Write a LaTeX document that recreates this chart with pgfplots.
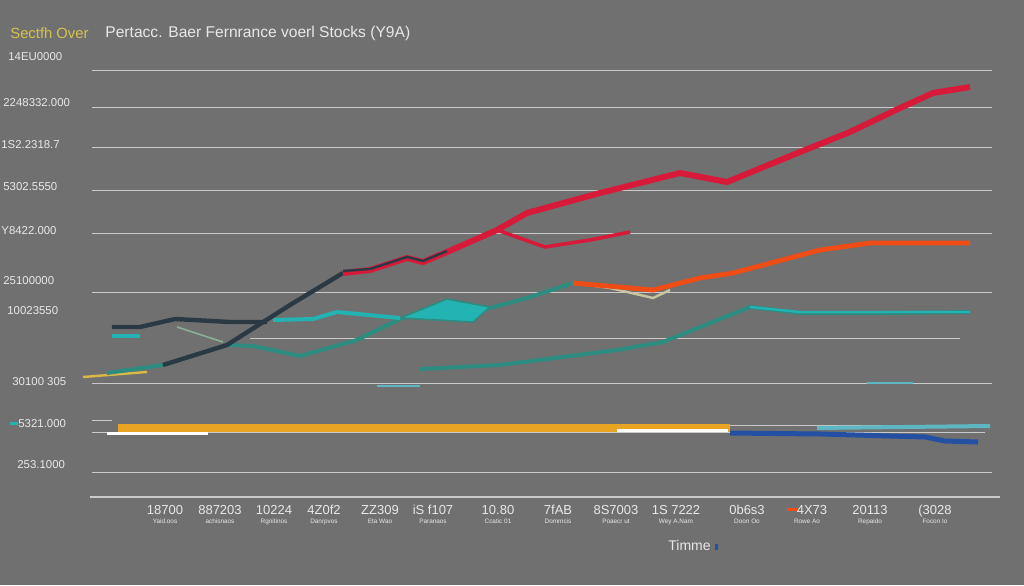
\documentclass[border=0pt]{standalone}
\usepackage{fontspec}
\setmainfont{Liberation Sans}
\usepackage{pgfplots}
\pgfplotsset{compat=1.18}
\definecolor{bgc}{HTML}{707070}
\definecolor{gridc}{HTML}{C9C9C9}
\definecolor{txt}{HTML}{E8E8E8}
\definecolor{titley}{HTML}{D8C24C}
\definecolor{redc}{HTML}{D71A3A}
\definecolor{darkc}{HTML}{2A3944}
\definecolor{tealc}{HTML}{22B3B2}
\definecolor{dtealc}{HTML}{2C8C80}
\definecolor{orangec}{HTML}{F04C16}
\definecolor{bandc}{HTML}{E9A423}
\definecolor{bluec}{HTML}{2350A2}
\definecolor{lteal}{HTML}{5DB7C2}
\definecolor{palec}{HTML}{C8C6A0}
\definecolor{yelc}{HTML}{D9B84A}
\begin{document}
\begin{tikzpicture}
\begin{axis}[
  set layers,
  scale only axis, width=455pt, height=226pt,
  xmin=90, xmax=1000, ymin=88, ymax=540,
  clip=false,
  axis x line*=bottom, axis y line=none,
  x axis line style={gridc, line width=1pt, -},
  xtick={165,220,274,324,380,433,498,558,616,676,747,807,870,935},
  xticklabels={
    {18700\\[-2.5pt]{\fontsize{3.2}{3.5}\selectfont Yaid.oos}},
    {887203\\[-2.5pt]{\fontsize{3.2}{3.5}\selectfont achisnaos}},
    {10224\\[-2.5pt]{\fontsize{3.2}{3.5}\selectfont Rgnitinos}},
    {4Z0f2\\[-2.5pt]{\fontsize{3.2}{3.5}\selectfont Danrpvos}},
    {ZZ309\\[-2.5pt]{\fontsize{3.2}{3.5}\selectfont Eta Wao}},
    {iS f107\\[-2.5pt]{\fontsize{3.2}{3.5}\selectfont Paranaos}},
    {10.80\\[-2.5pt]{\fontsize{3.2}{3.5}\selectfont Ccatic 01}},
    {7fAB\\[-2.5pt]{\fontsize{3.2}{3.5}\selectfont Dommcis}},
    {8S7003\\[-2.5pt]{\fontsize{3.2}{3.5}\selectfont Poaecr ut}},
    {1S 7222\\[-2.5pt]{\fontsize{3.2}{3.5}\selectfont Wey A.Nam}},
    {0b6s3\\[-2.5pt]{\fontsize{3.2}{3.5}\selectfont Doon Oo}},
    {\textcolor{orangec}{\rule[1.8pt]{5pt}{1.2pt}}4X73\\[-2.5pt]{\fontsize{3.2}{3.5}\selectfont Rowe Ao}},
    {20113\\[-2.5pt]{\fontsize{3.2}{3.5}\selectfont Repaido}},
    {(3028\\[-2.5pt]{\fontsize{3.2}{3.5}\selectfont Focon Io}}},
  xticklabel style={align=center, text=txt, font=\fontsize{6.5}{7}\selectfont, yshift=-0.5pt},
  major tick length=0pt,
  ytick=\empty,
]
\coordinate (BL) at (axis cs:0,0);
\coordinate (TR) at (axis cs:1024,585);
\begin{pgfonlayer}{axis background}
\fill[bgc] (axis cs:0,0) rectangle (axis cs:1024,585);
\end{pgfonlayer}
% grid lines
\foreach \yy in {515,478,438,395,352,293,202,113}{
  \edef\tmp{\noexpand\draw[gridc, line width=0.5pt] (axis cs:92,\yy) -- (axis cs:992,\yy);}\tmp
}
\draw[gridc, line width=0.5pt] (axis cs:250,247) -- (axis cs:960,247);
\draw[gridc, line width=0.5pt] (axis cs:92,165) -- (axis cs:112,165);
\draw[gridc, line width=0.5pt] (axis cs:700,160) -- (axis cs:990,160);
\draw[gridc, line width=0.5pt] (axis cs:92,153) -- (axis cs:985,153);
% title
\node[text=titley, font=\fontsize{7.4}{9}\selectfont, anchor=west, inner sep=0pt] at (axis cs:10,552) {Sectfh Over};
\node[text=txt, font=\fontsize{7.8}{9}\selectfont, anchor=west, inner sep=0pt] at (axis cs:105,552) {Pertacc. Baer Fernrance voerl Stocks (Y9A)};
% y labels
\begin{scope}[every node/.style={text=txt, font=\fontsize{5.7}{6.5}\selectfont, anchor=west, inner sep=0pt}]
\node at (axis cs:8,528) {14EU0000};
\node at (axis cs:3,482) {2248332.000};
\node at (axis cs:1,440) {1S2.2318.7};
\node at (axis cs:3,398) {5302.5550};
\node at (axis cs:1,354) {Y8422.000};
\node at (axis cs:3,304) {25100000};
\node at (axis cs:7,274) {10023550};
\node at (axis cs:12,203) {30100 305};
\node at (axis cs:10,161) {\textcolor{tealc}{\rule[1.6pt]{4pt}{1.2pt}}5321.000};
\node at (axis cs:17,120) {253.1000};
\end{scope}
\node[text=txt, font=\fontsize{7}{8}\selectfont] at (axis cs:693,40) {Timme \textcolor{bluec}{\rule{1.5pt}{3pt}}};
% bottom bands
\addplot[bandc, line width=4pt] coordinates {(118,157) (730,157)};
\addplot[white, line width=1.5pt] coordinates {(107,152) (208,152)};
\addplot[white, line width=1.5pt] coordinates {(617,155) (728,155)};
\addplot[bluec, line width=2.5pt] coordinates {(730,152) (820,151) (925,148) (945,144) (978,143)};
\addplot[lteal, line width=2pt] coordinates {(817,157) (990,159)};
% short dashes
\addplot[lteal, line width=1.2pt] coordinates {(377,199) (420,199)};
\addplot[lteal, line width=1.2pt] coordinates {(867,202) (913,202)};
% yellow start
\addplot[yelc, line width=1.2pt] coordinates {(83,208) (147,213)};
% lower teal right
\addplot[dtealc, line width=2pt] coordinates {(420,216) (500,220) (617,235) (663,243) (750,278) (800,272) (883,272) (970,273)};
\addplot[tealc, line width=1.2pt] coordinates {(750,278) (800,273) (883,273) (970,273)};
% teal main
\addplot[dtealc, line width=2pt] coordinates {(107,212) (163,220) (227,240) (253,239) (300,229) (357,245) (400,266) (447,282) (490,277) (527,287) (573,302)};
\addplot[fill=tealc, draw=dtealc, line width=0.8pt] coordinates {(400,267) (447,286) (490,278) (473,263) (400,267)};
\addplot[tealc, line width=2pt] coordinates {(112,249) (140,249)};
\addplot[tealc, line width=2pt] coordinates {(273,265) (313,266) (337,273) (400,267)};
% pale
\addplot[palec, line width=1.2pt] coordinates {(573,302) (610,297) (653,287) (670,295)};
% orange
\addplot[orangec, line width=2.4pt] coordinates {(573,302) (653,295) (700,307) (733,312) (820,335) (870,342) (970,342)};
% dark lines
\addplot[palec!60!dtealc, line width=0.8pt] coordinates {(177,258) (223,243)};
\addplot[darkc, line width=2.2pt] coordinates {(112,258) (140,258) (175,266) (230,263) (267,263)};
\addplot[darkc, line width=2.2pt] coordinates {(163,220) (227,240) (290,280) (343,312)};
% red branch
\addplot[redc, line width=1.8pt] coordinates {(497,355) (545,338) (590,345) (630,353)};
% red main
\addplot[redc, line width=3pt] coordinates {(343,312) (370,315) (407,327) (423,323) (447,333) (497,355) (527,372) (600,392) (680,412) (727,403) (800,433) (850,453) (900,477) (933,492) (970,498)};
\addplot[darkc, line width=1.2pt] coordinates {(343,314) (370,316) (407,328) (423,324) (447,334)};
\end{axis}
\pgfresetboundingbox
\useasboundingbox (BL) rectangle (TR);
\end{tikzpicture}
\end{document}
